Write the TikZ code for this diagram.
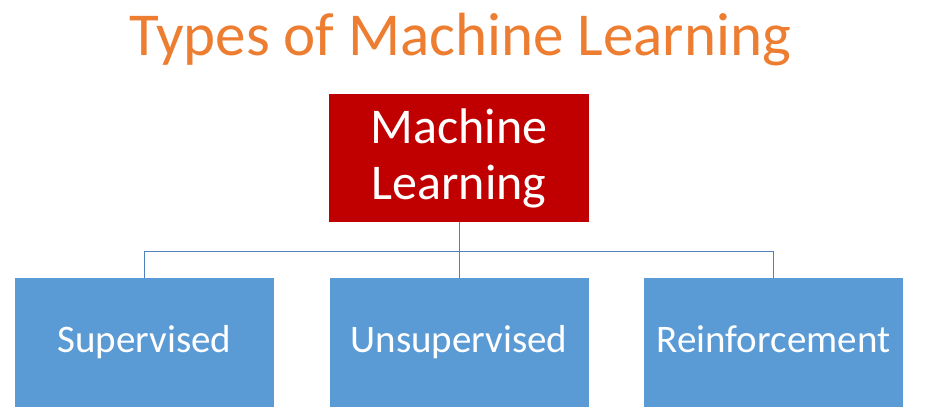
\documentclass[tikz,border=0pt]{standalone}
\usepackage{fontspec}
\setmainfont{Carlito}
\definecolor{titleorange}{HTML}{ED7D31}
\definecolor{mlred}{HTML}{C00000}
\definecolor{boxblue}{HTML}{5B9BD5}
\definecolor{linkblue}{HTML}{4F81BD}
\begin{document}
\begin{tikzpicture}[x=1pt,y=-1pt,
  topbox/.style={fill=mlred,draw=none,minimum width=260pt,minimum height=128pt,inner sep=0pt,text=white,align=center,font=\fontsize{50}{56}\selectfont},
  leafbox/.style={fill=boxblue,draw=none,minimum width=259pt,minimum height=129pt,inner sep=0pt,text=white,text height=27pt,text depth=8pt,font=\fontsize{39}{45}\selectfont},
  link/.style={draw=linkblue,line width=0.9pt}]
\useasboundingbox (0,0) rectangle (927,407);
\fill[white] (0,0) rectangle (927,407);
\node[text=titleorange,font=\fontsize{61}{70}\selectfont,anchor=base] (title) at (460,55) {Types of Machine Learning};
\node[topbox] (ml) at (459,158) {Machine\\Learning};
\node[leafbox] (sup) at (144.5,342.5) {Supervised};
\node[leafbox] (uns) at (459,342.5) {Unsupervised};
\node[leafbox] (rei) at (773.5,342.5) {Reinforcement};
\coordinate (bus) at (459,251);
\draw[link] (ml.south) -- (bus);
\draw[link] (sup.north) |- (bus);
\draw[link] (rei.north) |- (bus);
\draw[link] (uns.north) -- (bus);
\end{tikzpicture}
\end{document}
